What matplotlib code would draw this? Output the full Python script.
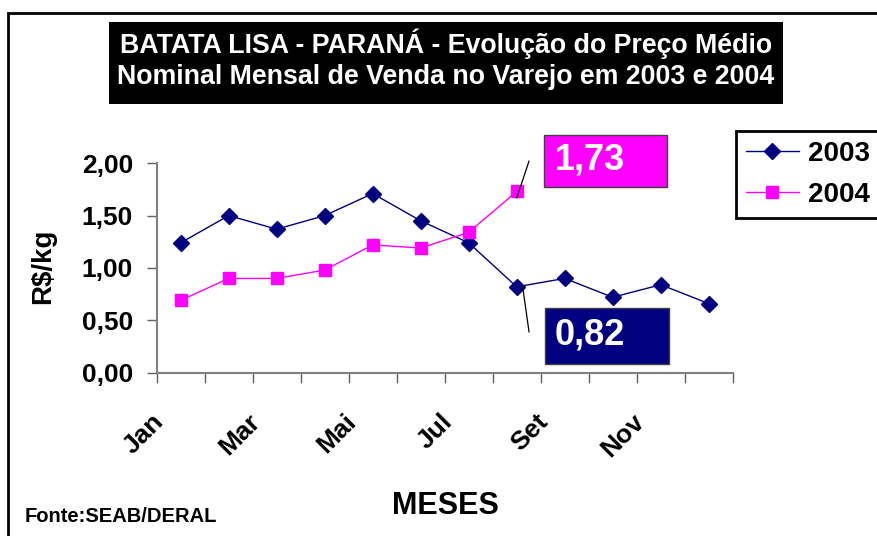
import matplotlib
matplotlib.use('Agg')
import matplotlib.pyplot as plt
from matplotlib.patches import Rectangle
from matplotlib.transforms import offset_copy, ScaledTranslation

plt.rcParams['font.family'] = ['Liberation Sans', 'DejaVu Sans']

# monthly average retail price, R$/kg
months = ['Jan', 'Fev', 'Mar', 'Abr', 'Mai', 'Jun', 'Jul', 'Ago', 'Set', 'Out', 'Nov', 'Dez']
price_2003 = [1.24, 1.50, 1.37, 1.50, 1.71, 1.45, 1.24, 0.82, 0.90, 0.72, 0.84, 0.66]
price_2004 = [0.69, 0.90, 0.90, 0.98, 1.22, 1.19, 1.34, 1.73]
y_ticks = [0.0, 0.5, 1.0, 1.5, 2.0]

navy = '#000080'
magenta = '#FF00FF'
W, H = 877, 536

fig = plt.figure(figsize=(W / 100, H / 100), dpi=100)
ax = fig.add_axes([156.7 / W, 1 - 372.7 / H, 576 / W, 209.5 / H])

x03 = list(range(len(price_2003)))
x04 = list(range(len(price_2004)))
ax.plot(x03, price_2003, color=navy, lw=1, marker='D', ms=8.5, label='2003')
ax.plot(x04, price_2004, color=magenta, lw=1, marker='s', ms=8, label='2004')

ax.set_xlim(-0.5, 11.5)
ax.set_ylim(0, 2.0)
ax.set_yticks(y_ticks, labels=[f'{v:.2f}'.replace('.', ',') for v in y_ticks])
ax.set_xticks(range(0, 12, 2), labels=months[::2])
ax.set_xticks([i - 0.5 for i in range(13)], minor=True)

for s in ['top', 'right']:
    ax.spines[s].set_visible(False)
for s in ['left', 'bottom']:
    ax.spines[s].set_color('#808080')
    ax.spines[s].set_linewidth(1.5)

ax.tick_params(axis='y', length=7, width=1, color='#606060', pad=10, labelsize=19)
ax.tick_params(axis='x', which='major', length=0, pad=14, labelsize=19)
ax.tick_params(axis='x', which='minor', length=7, width=1, color='#606060')
for lab in ax.get_yticklabels():
    lab.set_fontweight('bold')
shift = ScaledTranslation(-0.29, -0.17, fig.dpi_scale_trans)
for lab in ax.get_xticklabels():
    lab.set_fontweight('bold')
    lab.set_rotation(45)
    lab.set_ha('right')
    lab.set_rotation_mode('anchor')
    lab.set_transform(lab.get_transform() + shift)

# outer frame of the chart area
fig.patches.append(Rectangle((8.3 / W, -0.1), 1.2, 1 - 13.3 / H + 0.1, transform=fig.transFigure,
                             fill=False, ec='black', lw=2, clip_on=False))

# title box
fig.patches.append(Rectangle((109.3 / W, 1 - 104.3 / H), 673.4 / W, 82 / H, transform=fig.transFigure,
                             fc='black', ec='none'))
fig.text(446 / W, 1 - 44 / H, 'BATATA LISA - PARANÁ - Evolução do Preço Médio',
         color='white', fontsize=19.3, fontweight='bold', ha='center', va='center')
fig.text(446 / W, 1 - 76.5 / H, 'Nominal Mensal de Venda no Varejo em 2003 e 2004',
         color='white', fontsize=19.3, fontweight='bold', ha='center', va='center')

ax.set_ylabel('R$/kg', fontsize=20, fontweight='bold')
ax.yaxis.set_label_coords(56 / W, 1 - 266 / H, transform=fig.transFigure)
fig.text(445 / W, 1 - 506 / H, 'MESES', fontsize=22, fontweight='bold', ha='center', va='center')
fig.text(25 / W, 1 - 516 / H, 'Fonte:SEAB/DERAL', fontsize=14.5, fontweight='bold', ha='left', va='center')

leg = ax.legend(loc='upper left', bbox_to_anchor=(736 / W, 1 - 131 / H), bbox_transform=fig.transFigure,
                borderaxespad=0, fancybox=False, edgecolor='black', framealpha=1,
                prop={'size': 20, 'weight': 'bold'}, handlelength=1.9, handletextpad=0.35,
                labelspacing=0.55, borderpad=0.35)
leg.get_frame().set_linewidth(2)

# value call-outs for August
fig.patches.append(Rectangle((544 / W, 1 - 186.7 / H), 123 / W, 51.7 / H, transform=fig.transFigure,
                             fc=magenta, ec='#404040', lw=1))
fig.text(555 / W, 1 - 160 / H, f'{price_2004[7]:.2f}'.replace('.', ','), color='white',
         fontsize=26, fontweight='bold', ha='left', va='center')
fig.patches.append(Rectangle((545 / W, 1 - 364 / H), 124 / W, 56 / H, transform=fig.transFigure,
                             fc=navy, ec='#404040', lw=1))
fig.text(555 / W, 1 - 335 / H, f'{price_2003[7]:.2f}'.replace('.', ','), color='white',
         fontsize=26, fontweight='bold', ha='left', va='center')

ax.annotate('', xy=(7, price_2004[7]), xycoords=offset_copy(ax.transData, fig=fig, y=-4.8, units='points'),
            xytext=(8.9, 26.8), textcoords='offset points',
            arrowprops=dict(arrowstyle='-', color='black', lw=0.9, shrinkA=0, shrinkB=0))
ax.annotate('', xy=(7, price_2003[7]), xycoords=offset_copy(ax.transData, fig=fig, x=4.3, units='points'),
            xytext=(4.6, -32.6), textcoords='offset points',
            arrowprops=dict(arrowstyle='-', color='black', lw=0.9, shrinkA=0, shrinkB=0))

fig.savefig('out.png', dpi=100)
